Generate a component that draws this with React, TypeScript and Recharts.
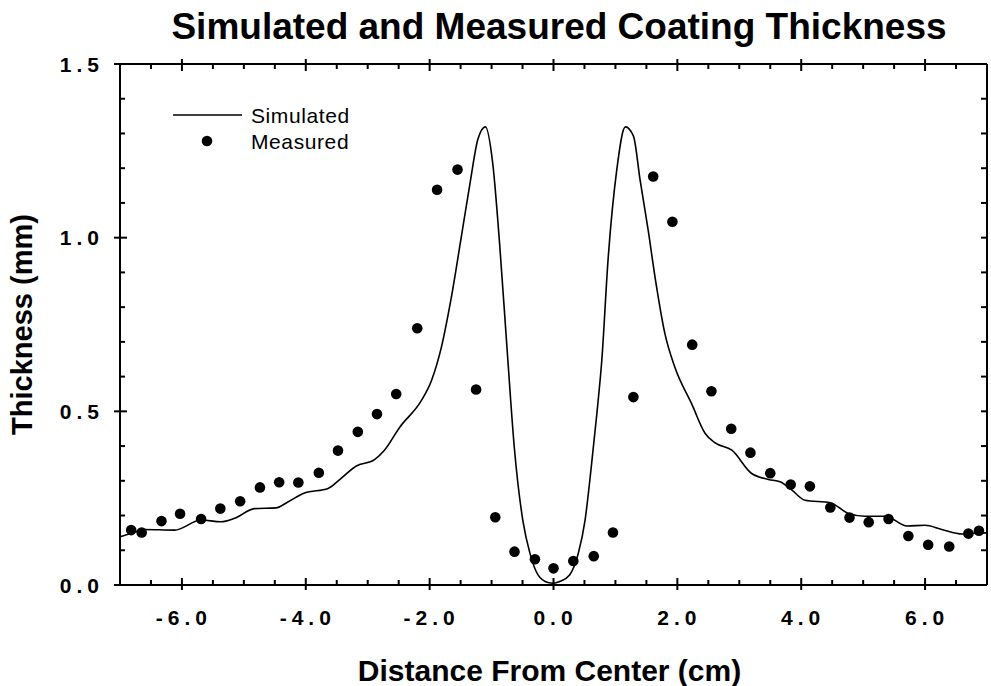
import React from "react";
import { ComposedChart, Line, Scatter, XAxis, YAxis, Legend } from "recharts";

// simulated profile (cm, mm)
const simX = [
  -7.0, -6.82, -6.61, -6.12, -5.69, -5.37, -5.15, -4.83, -4.48, -4.29, -4.02, -3.64, -3.43, -3.19,
  -2.89, -2.73, -2.48, -2.13, -1.97, -1.81, -1.65, -1.49, -1.35, -1.22, -1.1, -0.98, -0.87, -0.75,
  -0.63, -0.49, -0.38, -0.25, -0.09, 0.0, 0.1, 0.26, 0.4, 0.51, 0.61, 0.7, 0.78, 0.88, 1.02, 1.16,
  1.29, 1.4, 1.53, 1.64, 1.8, 1.96, 2.23, 2.45, 2.61, 2.88, 3.2, 3.47, 3.66, 3.85, 4.06, 4.47, 4.76,
  5.03, 5.36, 5.71, 6.0, 6.27, 6.6, 6.81, 7.0,
];
const simY = [
  0.139, 0.148, 0.16, 0.158, 0.187, 0.182, 0.192, 0.22, 0.222, 0.239, 0.265, 0.278, 0.307, 0.342,
  0.361, 0.388, 0.455, 0.532, 0.589, 0.685, 0.828, 1.001, 1.154, 1.284, 1.319, 1.212, 0.982, 0.68,
  0.39, 0.18, 0.091, 0.029, 0.007, 0.005, 0.01, 0.029, 0.091, 0.187, 0.34, 0.493, 0.647, 0.934, 1.193,
  1.319, 1.293, 1.164, 1.02, 0.886, 0.723, 0.627, 0.522, 0.436, 0.409, 0.388, 0.321, 0.304, 0.297,
  0.273, 0.244, 0.237, 0.206, 0.198, 0.198, 0.17, 0.172, 0.16, 0.147, 0.149, 0.15,
];

// measured points
const measX = [
  -6.82, -6.65, -6.33, -6.03, -5.69, -5.38, -5.06, -4.74, -4.43, -4.12, -3.79, -3.48, -3.16, -2.85,
  -2.54, -2.2, -1.88, -1.55, -1.25, -0.94, -0.63, -0.3, 0.0, 0.32, 0.65, 0.96, 1.29, 1.61, 1.92, 2.24,
  2.55, 2.87, 3.18, 3.5, 3.83, 4.14, 4.47, 4.78, 5.09, 5.41, 5.73, 6.05, 6.39, 6.7, 6.87,
];
const measY = [
  0.158, 0.151, 0.184, 0.205, 0.19, 0.22, 0.241, 0.281, 0.296, 0.295, 0.323, 0.387, 0.441, 0.492,
  0.55, 0.739, 1.138, 1.196, 0.563, 0.195, 0.096, 0.074, 0.048, 0.069, 0.083, 0.151, 0.541, 1.176,
  1.046, 0.692, 0.558, 0.45, 0.381, 0.322, 0.289, 0.284, 0.223, 0.194, 0.181, 0.19, 0.141, 0.116,
  0.111, 0.148, 0.156,
];

const xTicks = [
  -7, -6.5, -6, -5.5, -5, -4.5, -4, -3.5, -3, -2.5, -2, -1.5, -1, -0.5, 0, 0.5, 1, 1.5, 2, 2.5, 3,
  3.5, 4, 4.5, 5, 5.5, 6, 6.5, 7,
];
const xMajor = [-6, -4, -2, 0, 2, 4, 6];
const yTicks = [0, 0.1, 0.2, 0.3, 0.4, 0.5, 0.6, 0.7, 0.8, 0.9, 1.0, 1.1, 1.2, 1.3, 1.4, 1.5];
const yMajor = [0, 0.5, 1.0, 1.5];

const simData = simX.map((x, i) => ({ x, y: simY[i] }));
const measData = measX.map((x, i) => ({ x, y: measY[i] }));

const FONT = '"Liberation Sans", Arial, Helvetica, sans-serif';
const TS = 0.01; // near-zero tick size so tick props sit on the axis line

const isMajor = (list: number[], v: number) => list.some((m) => Math.abs(m - v) < 1e-6);

const BottomTick = (props: any) => {
  const { x, y, payload } = props;
  const major = isMajor(xMajor, payload.value);
  return (
    <g>
      <line x1={x} x2={x} y1={y - (major ? 7 : 5)} y2={y + (major ? 5 : 0)} stroke="#000" strokeWidth={2} />
      {major && (
        <text
          x={x + 2}
          y={y + 32}
          dy="0.36em"
          textAnchor="middle"
          fontFamily={FONT}
          fontWeight="bold"
          fontSize={21}
          letterSpacing={5}
          fill="#000"
        >
          {payload.value.toFixed(1)}
        </text>
      )}
    </g>
  );
};

const TopTick = (props: any) => {
  const { x, y, payload } = props;
  const major = isMajor(xMajor, payload.value);
  return <line x1={x} x2={x} y1={y - (major ? 5 : 0)} y2={y + (major ? 7 : 5)} stroke="#000" strokeWidth={2} />;
};

const LeftTick = (props: any) => {
  const { x, y, payload } = props;
  const major = isMajor(yMajor, payload.value);
  return (
    <g>
      <line x1={x - (major ? 6 : 0)} x2={x + (major ? 7 : 5)} y1={y} y2={y} stroke="#000" strokeWidth={2} />
      {major && (
        <text
          x={x - 16}
          y={y}
          dy="0.36em"
          textAnchor="end"
          fontFamily={FONT}
          fontWeight="bold"
          fontSize={21}
          letterSpacing={5}
          fill="#000"
        >
          {payload.value.toFixed(1)}
        </text>
      )}
    </g>
  );
};

const RightTick = (props: any) => {
  const { x, y } = props;
  return <line x1={x - 6} x2={x} y1={y} y2={y} stroke="#000" strokeWidth={2} />;
};

const Dot = (props: any) => <circle cx={props.cx} cy={props.cy} r={5.3} fill="#000" />;

const renderLegend = () => (
  <svg width={220} height={60} style={{ display: "block" }}>
    <line x1={3} x2={72} y1={15} y2={15} stroke="#000" strokeWidth={1.5} />
    <text x={81} y={15} dy="0.36em" fontFamily={FONT} fontSize={21} letterSpacing={0.6} fill="#000">
      Simulated
    </text>
    <circle cx={37} cy={41} r={5.3} fill="#000" />
    <text x={81} y={41} dy="0.36em" fontFamily={FONT} fontSize={21} letterSpacing={0.6} fill="#000">
      Measured
    </text>
  </svg>
);

export default function App() {
  return (
    <div style={{ position: "absolute", left: 0, top: 0, width: 991, height: 686, background: "#fff" }}>
      <div
        style={{
          position: "absolute",
          left: 159,
          top: 8,
          width: 800,
          textAlign: "center",
          fontFamily: FONT,
          fontWeight: "bold",
          fontSize: 37,
          lineHeight: "37px",
          whiteSpace: "nowrap",
          color: "#000",
        }}
      >
        Simulated and Measured Coating Thickness
      </div>
      <ComposedChart width={991} height={686} margin={{ top: 63, right: 3, bottom: 0, left: 0 }}>
        <XAxis
          dataKey="x"
          type="number"
          domain={[-7, 7]}
          ticks={xTicks}
          interval={0}
          height={101}
          axisLine={{ stroke: "#000", strokeWidth: 2 }}
          tickLine={false}
          tickSize={TS}
          tickMargin={0}
          tick={<BottomTick />}
          label={{
            value: "Distance From Center (cm)",
            position: "insideBottom",
            offset: 5,
            dx: -4,
            style: { fontFamily: FONT, fontWeight: "bold", fontSize: 30, fill: "#000" },
          }}
        />
        <XAxis
          xAxisId="top"
          orientation="top"
          dataKey="x"
          type="number"
          domain={[-7, 7]}
          ticks={xTicks}
          interval={0}
          height={1}
          axisLine={{ stroke: "#000", strokeWidth: 2 }}
          tickLine={false}
          tickSize={TS}
          tickMargin={0}
          tick={<TopTick />}
        />
        <YAxis
          type="number"
          domain={[0, 1.5]}
          ticks={yTicks}
          interval={0}
          width={120}
          axisLine={{ stroke: "#000", strokeWidth: 2 }}
          tickLine={false}
          tickSize={TS}
          tickMargin={0}
          tick={<LeftTick />}
          label={{
            value: "Thickness (mm)",
            angle: -90,
            position: "insideLeft",
            offset: 22,
            style: { textAnchor: "middle", fontFamily: FONT, fontWeight: "bold", fontSize: 29, fill: "#000" },
          }}
        />
        <YAxis
          yAxisId="right"
          orientation="right"
          type="number"
          domain={[0, 1.5]}
          ticks={yTicks}
          interval={0}
          width={1}
          axisLine={{ stroke: "#000", strokeWidth: 2 }}
          tickLine={false}
          tickSize={TS}
          tickMargin={0}
          tick={<RightTick />}
        />
        <Legend
          layout="horizontal"
          verticalAlign="middle"
          align="center"
          content={renderLegend}
          wrapperStyle={{ left: 170, top: 100, width: 220, height: 60 }}
        />
        {/* invisible series that keeps the top/right frame axes alive */}
        <Line
          data={simData}
          dataKey="y"
          xAxisId="top"
          yAxisId="right"
          stroke="none"
          dot={false}
          activeDot={false}
          legendType="none"
          isAnimationActive={false}
        />
        <Line
          data={simData}
          dataKey="y"
          name="Simulated"
          type="monotone"
          stroke="#000"
          strokeWidth={1.6}
          dot={false}
          isAnimationActive={false}
        />
        <Scatter data={measData} dataKey="y" name="Measured" shape={Dot} isAnimationActive={false} />
      </ComposedChart>
    </div>
  );
}
